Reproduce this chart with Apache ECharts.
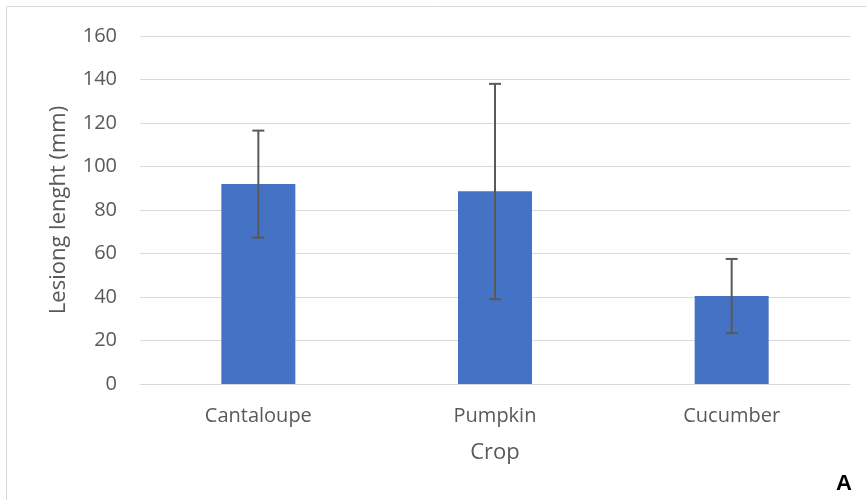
<!DOCTYPE html>
<html>
<head>
<meta charset="utf-8">
<script src="https://cdn.jsdelivr.net/npm/echarts@6/dist/echarts.min.js"></script>
<style>html,body{margin:0;padding:0;background:#fff;}#c{width:866px;height:500px;}</style>
</head>
<body>
<div id="c"></div>
<script>
const categories = ['Cantaloupe', 'Pumpkin', 'Cucumber'];
const means = [92, 88.6, 40.5];
const errLow = [67.3, 39, 23.4];
const errHigh = [116.5, 138, 57.5];
const yTicks = [0, 20, 40, 60, 80, 100, 120, 140, 160];

const chart = echarts.init(document.getElementById('c'));
const font = 'Open Sans, Noto Sans, sans-serif';
chart.setOption({
  animation: false,
  graphic: [
    {type: 'rect', shape: {x: 6.5, y: 6.5, width: 870, height: 500}, style: {fill: 'none', stroke: '#d9d9d9', lineWidth: 1}, z: -1},
    {type: 'text', right: 14, bottom: 5, style: {text: 'A', font: 'bold 22px Liberation Sans, Arial, sans-serif', fill: '#000'}}
  ],
  grid: {left: 140, right: 16, top: 36, bottom: 116},
  xAxis: {
    type: 'category', data: categories,
    name: 'Crop', nameLocation: 'middle', nameGap: 58,
    nameTextStyle: {fontFamily: font, fontSize: 22, color: '#595959'},
    axisLine: {lineStyle: {color: '#d9d9d9', width: 1}},
    axisTick: {show: false},
    axisLabel: {fontFamily: font, fontSize: 20, color: '#595959', margin: 22}
  },
  yAxis: {
    type: 'value', min: yTicks[0], max: yTicks[yTicks.length - 1], interval: 20,
    name: 'Lesiong lenght (mm)', nameLocation: 'middle', nameGap: 70,
    nameTextStyle: {fontFamily: font, fontSize: 22, color: '#595959'},
    axisLine: {show: false}, axisTick: {show: false},
    axisLabel: {fontFamily: font, fontSize: 20, color: '#595959', margin: 23},
    splitLine: {lineStyle: {color: '#d9d9d9', width: 1}}
  },
  series: [
    {type: 'bar', data: means, barWidth: 74, itemStyle: {color: '#4472c4'}},
    {
      type: 'custom', z: 10,
      data: categories.map((c, i) => [i, errLow[i], errHigh[i]]),
      renderItem: function (params, api) {
        const x = api.value(0);
        const lo = api.coord([x, api.value(1)]);
        const hi = api.coord([x, api.value(2)]);
        const hw = 6;
        const st = {stroke: '#595959', lineWidth: 2};
        return {type: 'group', children: [
          {type: 'line', shape: {x1: lo[0], y1: lo[1], x2: hi[0], y2: hi[1]}, style: st},
          {type: 'line', shape: {x1: lo[0] - hw, y1: lo[1], x2: lo[0] + hw, y2: lo[1]}, style: st},
          {type: 'line', shape: {x1: hi[0] - hw, y1: hi[1], x2: hi[0] + hw, y2: hi[1]}, style: st}
        ]};
      }
    }
  ]
});
</script>
</body>
</html>
